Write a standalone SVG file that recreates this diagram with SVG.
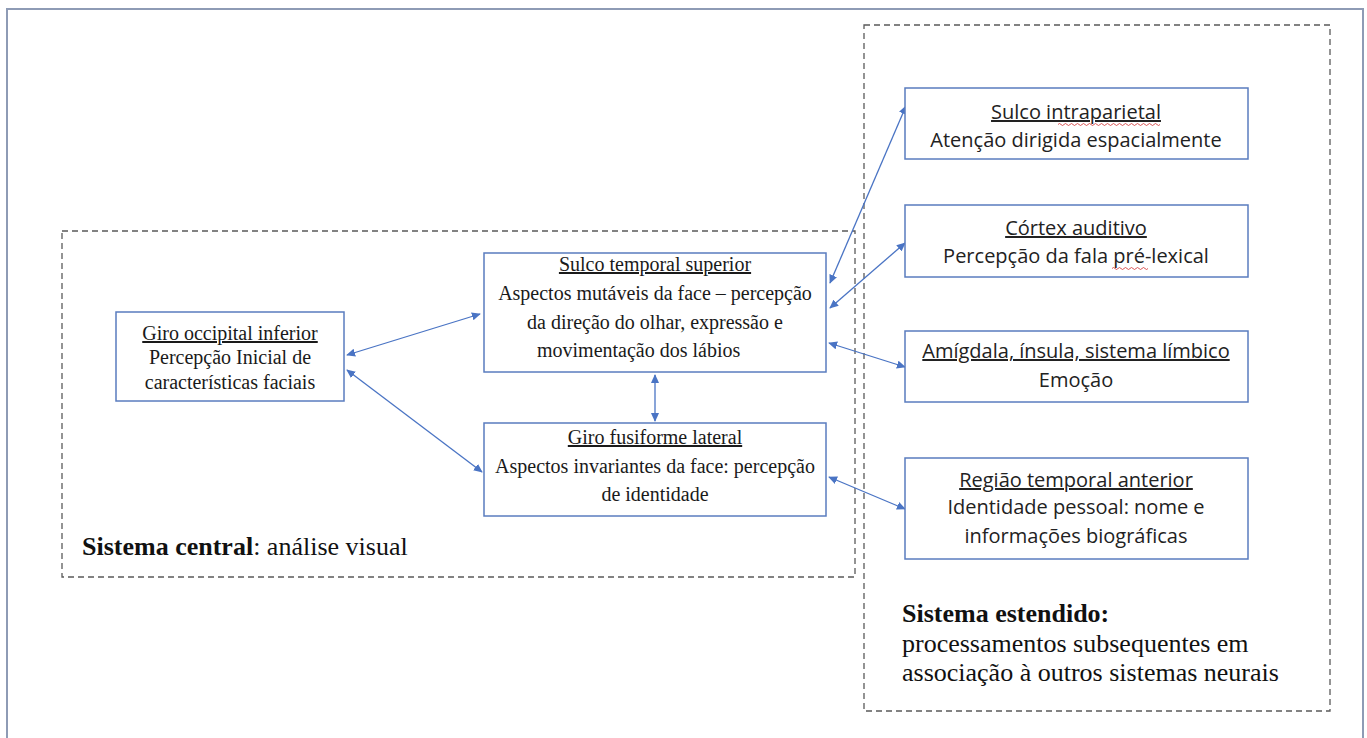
<svg xmlns="http://www.w3.org/2000/svg" width="1367" height="738" viewBox="0 0 1367 738">
<style>
.frame{fill:none;stroke:#8e9bb5;stroke-width:2}
.grp{fill:none;stroke:#5a5a5a;stroke-width:1.3;stroke-dasharray:6 4}
.box{fill:#fff;stroke:#5a7cbf;stroke-width:1.5}
.serif{font-family:"Liberation Serif","Times New Roman",serif;font-size:20px;fill:#1a1a1a;text-anchor:middle}
.start{text-anchor:start}
.sans{font-family:"Open Sans","Noto Sans","Liberation Sans",sans-serif;font-size:20px;fill:#222;text-anchor:middle}
.u{text-decoration:underline}
.lbl{font-family:"Liberation Serif","Times New Roman",serif;font-size:26px;fill:#111}
.con{stroke:#4a74c4;stroke-width:1.3;fill:none;marker-start:url(#ah);marker-end:url(#ah)}
.squig{fill:none;stroke:#d03030;stroke-width:0.8}
</style>
<defs>
<marker id="ah" viewBox="0 0 10 10" refX="9" refY="5" markerWidth="9" markerHeight="9" markerUnits="userSpaceOnUse" orient="auto-start-reverse">
<path d="M0,0.5 L10,5 L0,9.5 z" fill="#4a74c4"/>
</marker>
</defs>
<rect x="0" y="0" width="1367" height="738" fill="#fff"/>
<rect class="frame" x="7" y="9" width="1356" height="740"/>
<g id="grupo-central">
<rect class="grp" x="62" y="231" width="793" height="346"/>
<text class="lbl" x="82" y="555"><tspan font-weight="bold">Sistema central</tspan>: análise visual</text>
</g>
<g id="grupo-estendido">
<rect class="grp" x="864" y="25" width="466" height="686"/>
<text class="lbl" x="902" y="622" font-weight="bold">Sistema estendido:</text>
<text class="lbl" x="902" y="652">processamentos subsequentes em</text>
<text class="lbl" x="902" y="681">associação à outros sistemas neurais</text>
</g>
<g id="connectors">
<line class="con" x1="480" y1="314" x2="347" y2="355"/>
<line class="con" x1="482" y1="472" x2="347" y2="370"/>
<line class="con" x1="655" y1="421" x2="655" y2="375"/>
<line class="con" x1="906" y1="106" x2="830" y2="283"/>
<line class="con" x1="905" y1="243" x2="830" y2="308"/>
<line class="con" x1="905" y1="367" x2="829" y2="343"/>
<line class="con" x1="905" y1="509" x2="829" y2="477"/>
</g>
<g id="giro-occipital">
<rect class="box" x="116" y="312" width="228" height="89"/>
<text class="serif u" x="230" y="340">Giro occipital inferior</text>
<text class="serif" x="230" y="364">Percepção Inicial de</text>
<text class="serif" x="230" y="389">características faciais</text>
</g>
<g id="sulco-temporal">
<rect class="box" x="484" y="253" width="342" height="119"/>
<text class="serif u" x="655" y="271">Sulco temporal superior</text>
<text class="serif" x="655" y="300">Aspectos mutáveis da face – percepção</text>
<text class="serif" x="655" y="329">da direção do olhar, expressão e</text>
<text class="serif start" x="537" y="357">movimentação dos lábios</text>
</g>
<g id="giro-fusiforme">
<rect class="box" x="484" y="423" width="342" height="93"/>
<text class="serif u" x="655" y="444">Giro fusiforme lateral</text>
<text class="serif" x="655" y="473">Aspectos invariantes da face: percepção</text>
<text class="serif" x="655" y="501">de identidade</text>
</g>
<g id="sulco-intraparietal">
<rect class="box" x="905" y="88" width="343" height="71"/>
<text class="sans u" x="1076" y="119">Sulco intraparietal</text>
<text class="sans" x="1076" y="147">Atenção dirigida espacialmente</text>
<path class="squig" d="M1058,124.5 q1.5,-2 3,0 t3,0 t3,0 t3,0 t3,0 t3,0 t3,0 t3,0 t3,0 t3,0 t3,0 t3,0 t3,0 t3,0 t3,0 t3,0 t3,0 t3,0 t3,0 t3,0 t3,0 t3,0 t3,0 t3,0 t3,0 t3,0 t3,0 t3,0 t3,0 t3,0 t3,0 t3,0 t3,0 t3,0"/>
</g>
<g id="cortex-auditivo">
<rect class="box" x="905" y="205" width="343" height="72"/>
<text class="sans u" x="1076" y="235">Córtex auditivo</text>
<text class="sans" x="1076" y="263">Percepção da fala pré-lexical</text>
<path class="squig" d="M1112,268.5 q1.5,-2 3,0 t3,0 t3,0 t3,0 t3,0 t3,0 t3,0 t3,0 t3,0 t3,0 t3,0 t3,0"/>
</g>
<g id="amigdala">
<rect class="box" x="905" y="331" width="343" height="71"/>
<text class="sans u" x="1076" y="358">Amígdala, ínsula, sistema límbico</text>
<text class="sans" x="1076" y="387">Emoção</text>
</g>
<g id="regiao-temporal">
<rect class="box" x="905" y="458" width="343" height="101"/>
<text class="sans u" x="1076" y="487">Região temporal anterior</text>
<text class="sans" x="1076" y="514">Identidade pessoal: nome e</text>
<text class="sans" x="1076" y="543">informações biográficas</text>
</g>
</svg>
